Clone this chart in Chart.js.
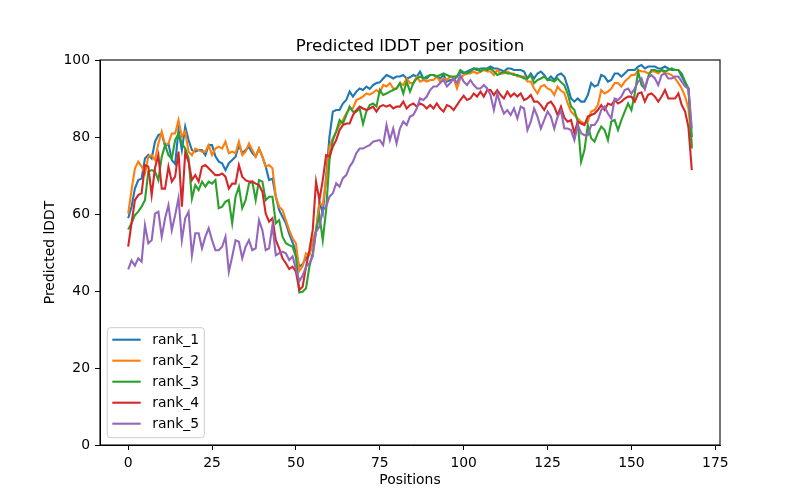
<!DOCTYPE html>
<html>
<head>
<meta charset="utf-8">
<script src="https://cdn.jsdelivr.net/npm/chart.js@4/dist/chart.umd.min.js"></script>
<style>
  body { margin: 0; background: #fff; }
  #wrap { width: 800px; height: 500px; }
</style>
</head>
<body>
<div id="wrap"><canvas id="grafico" width="800" height="500"></canvas></div>
<script>
const titulo = "Predicted lDDT per position";
const rankNames = ["rank_1", "rank_2", "rank_3", "rank_4", "rank_5"];
const rankColors = ["#1f77b4", "#ff7f0e", "#2ca02c", "#d62728", "#9467bd"];
const xTicks = [0, 25, 50, 75, 100, 125, 150, 175];
const yTicks = [0, 20, 40, 60, 80, 100];

const rank1 = [
  58.9, 61.9, 66.6, 68.8, 69.2, 74.4, 75.3, 74.4, 78.8, 80.5,
  80.9, 77.5, 78.3, 74.0, 73.0, 81.8, 76.6, 82.7, 79.2, 76.6,
  76.2, 76.6, 76.6, 75.3, 77.9, 77.9, 75.0, 73.6, 73.2, 71.4,
  73.2, 74.0, 74.9, 77.9, 75.8, 76.6, 77.4, 75.8, 74.9, 77.0,
  74.9, 72.3, 68.8, 69.2, 64.5, 61.0, 59.3, 57.6, 54.8, 52.6,
  50.2, 46.3, 47.0, 48.5, 49.5, 52.8, 55.4, 63.2, 60.2, 69.7,
  80.1, 86.6, 87.0, 87.0, 88.7, 89.6, 91.8, 90.5, 91.8, 92.6,
  92.2, 93.1, 92.5, 93.5, 94.0, 94.2, 95.2, 96.1, 95.7, 95.2,
  95.7, 95.7, 96.1, 95.2, 95.5, 96.1, 95.7, 97.0, 95.2, 95.2,
  96.1, 96.1, 95.7, 95.2, 96.1, 94.4, 94.8, 94.8, 95.7, 97.0,
  96.5, 97.0, 97.4, 97.8, 97.4, 97.8, 97.8, 97.8, 98.3, 97.8,
  97.8, 97.4, 97.0, 97.8, 97.8, 97.4, 97.4, 97.4, 97.0, 95.2,
  96.5, 95.2, 96.5, 97.0, 96.1, 94.8, 95.7, 94.8, 96.1, 96.5,
  95.7, 93.1, 90.0, 89.2, 90.0, 89.2, 89.2, 90.9, 94.0, 93.1,
  93.5, 96.1, 95.7, 94.4, 94.8, 96.5, 96.5, 95.7, 96.5, 97.4,
  97.4, 97.4, 98.3, 98.7, 97.8, 98.3, 98.3, 98.3, 97.8, 97.8,
  98.3, 97.8, 97.4, 97.4, 97.4, 95.7, 94.0, 92.6, 80.0
];
const rank2 = [
  60.1, 66.2, 71.8, 73.6, 72.3, 70.5, 74.9, 75.3, 74.0, 78.3,
  81.4, 77.9, 78.3, 80.9, 80.9, 84.4, 80.1, 81.4, 76.2, 75.3,
  77.0, 76.6, 76.2, 76.2, 77.9, 75.3, 77.0, 77.5, 77.0, 78.8,
  75.8, 76.2, 75.8, 78.8, 75.3, 76.2, 78.3, 76.6, 74.9, 77.0,
  74.9, 72.3, 72.7, 71.9, 64.5, 61.9, 61.0, 58.4, 55.8, 53.7,
  52.4, 45.2, 46.5, 49.8, 49.3, 53.2, 55.8, 62.8, 62.3, 68.8,
  77.5, 79.7, 81.4, 83.1, 84.4, 86.1, 87.4, 87.4, 89.6, 90.0,
  90.5, 91.3, 91.0, 91.5, 92.2, 91.5, 93.5, 93.1, 94.0, 92.6,
  92.6, 94.0, 93.5, 95.2, 94.0, 94.0, 95.7, 94.4, 94.8, 94.4,
  94.8, 94.8, 95.7, 94.4, 95.2, 94.8, 95.7, 95.2, 92.6, 95.2,
  96.1, 96.5, 96.5, 97.0, 96.5, 97.0, 97.4, 97.0, 97.0, 96.1,
  97.4, 96.5, 96.5, 97.0, 96.5, 96.5, 95.7, 95.7, 95.7, 94.4,
  94.4, 92.6, 91.3, 93.1, 93.5, 92.6, 92.2, 90.9, 93.1, 92.0,
  91.5, 88.7, 86.6, 85.7, 84.8, 84.0, 83.5, 84.0, 86.6, 87.0,
  88.3, 92.2, 91.3, 91.8, 92.6, 94.0, 94.0, 93.1, 94.4, 95.2,
  96.1, 96.1, 97.4, 97.0, 97.0, 96.5, 97.0, 97.0, 96.5, 97.4,
  96.5, 96.5, 96.1, 95.2, 94.0, 92.6, 90.5, 87.4, 77.5
];
const rank3 = [
  56.0, 57.6, 59.7, 60.6, 61.9, 63.6, 71.0, 71.4, 71.0, 68.8,
  74.9, 77.9, 75.3, 74.4, 79.2, 80.9, 78.3, 77.0, 74.4, 64.0,
  67.5, 66.2, 68.4, 67.1, 68.4, 67.9, 68.8, 61.5, 61.9, 63.2,
  63.6, 57.6, 64.5, 67.1, 61.5, 63.6, 67.9, 68.4, 63.6, 68.8,
  68.4, 63.6, 64.5, 64.5, 57.6, 58.4, 54.1, 52.4, 51.9, 51.5,
  48.9, 39.6, 39.8, 40.7, 46.3, 49.8, 55.8, 59.7, 53.2, 61.0,
  74.0, 79.2, 81.4, 84.4, 83.5, 85.7, 87.9, 86.6, 86.6, 87.4,
  83.4, 86.6, 88.3, 88.7, 87.9, 92.2, 90.9, 91.3, 91.8, 92.2,
  92.6, 94.0, 91.3, 94.4, 91.8, 94.0, 95.2, 95.7, 95.2, 95.7,
  96.1, 96.1, 95.7, 96.1, 96.5, 96.1, 95.7, 95.7, 95.7, 97.4,
  96.8, 96.5, 97.0, 97.8, 97.8, 97.0, 97.8, 97.4, 97.8, 97.0,
  96.1, 96.5, 97.0, 96.5, 96.5, 96.1, 96.1, 95.7, 95.2, 95.2,
  96.1, 94.0, 94.8, 95.2, 95.7, 94.8, 94.8, 94.4, 95.2, 94.2,
  93.5, 91.3, 87.9, 87.0, 84.0, 73.6, 76.6, 83.1, 79.7, 78.8,
  81.0, 82.7, 81.8, 79.2, 84.0, 84.4, 81.8, 84.4, 86.6, 88.7,
  87.0, 91.3, 97.0, 93.5, 92.5, 95.7, 97.4, 97.4, 97.0, 97.4,
  97.0, 97.4, 97.8, 97.4, 97.4, 96.5, 94.4, 92.6, 77.0
];
const rank4 = [
  51.5, 57.6, 63.6, 64.9, 65.4, 72.7, 72.3, 64.9, 72.0, 75.3,
  66.6, 66.6, 72.3, 68.4, 69.7, 76.2, 61.9, 75.8, 73.6, 68.8,
  70.1, 68.4, 72.3, 72.7, 71.9, 71.0, 70.1, 70.1, 70.5, 69.7,
  66.6, 67.9, 67.9, 72.7, 69.7, 68.8, 68.4, 68.4, 67.9, 67.5,
  65.8, 60.1, 58.0, 58.9, 53.2, 51.1, 48.5, 47.2, 45.7, 46.3,
  45.0, 40.3, 41.1, 46.3, 50.6, 55.8, 68.4, 63.6, 68.8, 75.3,
  74.9, 77.5, 79.2, 81.8, 83.1, 83.5, 83.5, 85.7, 87.0, 87.9,
  87.4, 87.0, 87.4, 87.9, 86.6, 87.9, 88.3, 87.9, 88.3, 87.4,
  87.9, 87.9, 89.2, 87.4, 88.3, 88.7, 87.9, 88.7, 88.3, 87.4,
  88.3, 87.4, 88.7, 87.4, 86.6, 88.3, 87.9, 87.0, 88.3, 89.6,
  90.7, 89.6, 90.0, 91.3, 90.5, 91.8, 90.5, 92.2, 92.2, 90.9,
  92.2, 90.9, 90.0, 91.8, 90.5, 91.3, 90.5, 91.3, 89.6, 90.0,
  90.9, 89.2, 89.2, 88.3, 87.0, 88.7, 89.2, 87.9, 85.7, 87.9,
  85.0, 84.0, 84.4, 81.0, 84.0, 83.5, 83.1, 85.3, 85.7, 86.1,
  87.0, 88.3, 87.0, 88.7, 88.3, 89.6, 88.7, 89.2, 90.0, 90.5,
  90.5, 89.2, 91.3, 91.6, 89.2, 91.0, 91.3, 90.5, 89.2, 90.5,
  92.2, 90.0, 90.0, 90.0, 91.3, 88.3, 86.6, 82.5, 71.4
];
const rank5 = [
  45.6, 47.9, 46.6, 48.5, 47.6, 57.1, 52.4, 53.2, 60.1, 60.6,
  54.1, 58.9, 62.3, 55.8, 59.7, 64.1, 53.2, 58.9, 60.6, 49.3,
  55.0, 55.0, 51.1, 54.1, 56.3, 53.2, 50.6, 50.6, 51.5, 54.1,
  45.0, 48.9, 53.2, 52.8, 48.5, 51.5, 53.2, 50.6, 51.1, 58.4,
  55.8, 50.6, 51.1, 57.1, 49.3, 49.8, 50.2, 49.8, 48.0, 49.0,
  45.8, 42.5, 44.0, 46.3, 47.2, 48.9, 55.4, 56.7, 61.0, 61.9,
  64.5, 65.4, 68.0, 67.1, 69.3, 70.1, 72.3, 73.6, 75.8, 77.0,
  77.0, 77.5, 77.9, 78.8, 79.0, 79.2, 77.9, 83.1, 79.2, 82.2,
  78.3, 82.2, 84.0, 83.1, 85.3, 85.7, 87.4, 90.0, 89.6, 90.5,
  92.2, 93.1, 93.1, 94.0, 94.8, 93.1, 94.0, 95.2, 94.0, 96.1,
  94.4, 93.5, 94.8, 93.5, 92.6, 92.6, 93.5, 92.6, 90.9, 87.0,
  91.3, 88.3, 86.1, 87.0, 85.7, 87.4, 84.8, 87.9, 87.4, 81.8,
  84.0, 87.4, 85.3, 82.2, 84.4, 86.6, 85.3, 82.2, 85.3, 86.8,
  82.2, 82.2, 81.8, 79.2, 83.1, 81.0, 80.5, 80.5, 83.1, 83.1,
  84.4, 87.0, 87.9, 86.1, 84.8, 90.0, 89.6, 90.5, 92.2, 92.6,
  91.3, 92.6, 94.4, 95.2, 92.5, 95.5, 96.1, 95.2, 93.5, 96.1,
  96.5, 95.2, 95.2, 95.7, 95.7, 94.4, 93.1, 92.6, 82.2
];

const ranks = [rank1, rank2, rank3, rank4, rank5];
const FONTE = "'DejaVu Sans', sans-serif";

// titulo centrado no eixo, moldura completa e legenda dentro (estilo matplotlib)
const molduraLegenda = {
  id: "molduraLegenda",
  afterDraw(chart) {
    const { ctx, chartArea: a } = chart;
    ctx.save();
    ctx.fillStyle = "#000";
    ctx.font = "16.7px " + FONTE;
    ctx.textAlign = "center";
    ctx.textBaseline = "alphabetic";
    ctx.fillText(titulo, (a.left + a.right) / 2, a.top - 9);

    ctx.strokeStyle = "#000";
    ctx.lineWidth = 1.1;
    ctx.strokeRect(a.left, a.top, a.right - a.left, a.bottom - a.top);

    const w = 97, h = 110;
    const x0 = a.left + 7.3;
    const y0 = a.bottom - 7.3 - h;
    ctx.beginPath();
    ctx.roundRect(x0, y0, w, h, 3);
    ctx.fillStyle = "rgba(255,255,255,0.8)";
    ctx.fill();
    ctx.strokeStyle = "#cccccc";
    ctx.lineWidth = 1;
    ctx.stroke();

    ctx.font = "13.9px " + FONTE;
    ctx.textBaseline = "middle";
    ctx.textAlign = "left";
    chart.data.datasets.forEach((ds, i) => {
      const yy = y0 + 12 + i * 21;
      ctx.beginPath();
      ctx.moveTo(x0 + 5, yy);
      ctx.lineTo(x0 + 33.4, yy);
      ctx.strokeStyle = ds.borderColor;
      ctx.lineWidth = 2.1;
      ctx.stroke();
      ctx.fillStyle = "#000";
      ctx.fillText(ds.label, x0 + 45, yy + 1);
    });
    ctx.restore();
  }
};

const datasets = ranks.map((vals, i) => ({
  label: rankNames[i],
  data: vals.map((v, pos) => ({ x: pos, y: v })),
  borderColor: rankColors[i],
  backgroundColor: rankColors[i],
  borderWidth: 2.1,
  pointRadius: 0,
  tension: 0,
  fill: false,
  order: rankNames.length - i
}));

const eixoTicks = { color: "#000", font: { family: FONTE, size: 13.9 }, padding: 5 };
const eixoGrid = { display: true, drawOnChartArea: false, drawTicks: true, tickLength: 5, color: "#000", lineWidth: 1 };

new Chart(document.getElementById("grafico"), {
  type: "line",
  data: { datasets },
  plugins: [molduraLegenda],
  options: {
    responsive: false,
    animation: false,
    devicePixelRatio: 1,
    layout: { padding: { left: 0, right: 80, top: 60, bottom: 0 } },
    plugins: {
      legend: { display: false },
      tooltip: { enabled: false },
      title: { display: false }
    },
    scales: {
      x: {
        type: "linear",
        min: -8.4,
        max: 176.4,
        afterBuildTicks: (s) => { s.ticks = xTicks.map((v) => ({ value: v })); },
        afterFit: (s) => { s.height = 55; },
        ticks: eixoTicks,
        grid: eixoGrid,
        border: { display: true, color: "#000", width: 1 },
        title: {
          display: true,
          text: "Positions",
          color: "#000",
          font: { family: FONTE, size: 13.9, lineHeight: 1.2 },
          padding: { top: 0, bottom: 11 }
        }
      },
      y: {
        type: "linear",
        min: 0,
        max: 100,
        afterBuildTicks: (s) => { s.ticks = yTicks.map((v) => ({ value: v })); },
        afterFit: (s) => { s.width = 100; },
        ticks: eixoTicks,
        grid: eixoGrid,
        border: { display: true, color: "#000", width: 1 },
        title: {
          display: true,
          text: "Predicted lDDT",
          color: "#000",
          font: { family: FONTE, size: 13.9, lineHeight: 1.2 },
          padding: { top: 41.7, bottom: 0 }
        }
      }
    }
  }
});
</script>
</body>
</html>
